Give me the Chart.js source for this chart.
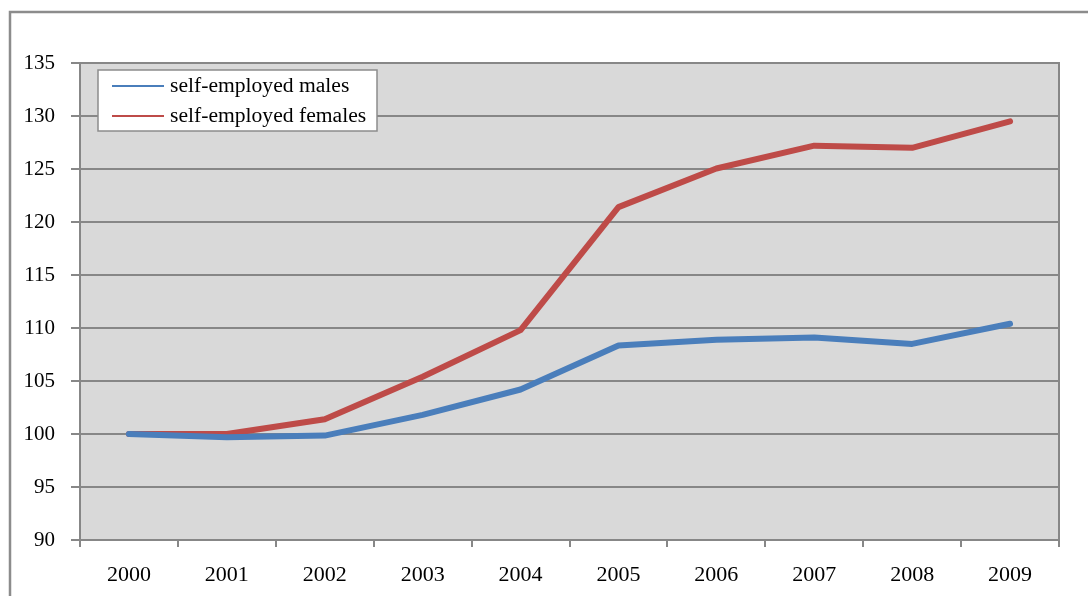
<!DOCTYPE html>
<html><head><meta charset="utf-8">
<script src="https://cdn.jsdelivr.net/npm/chart.js@4"></script>
<style>html,body{margin:0;padding:0;background:#fff}#wrap{width:1088px;height:596px;position:relative}</style>
</head><body><div id="wrap"><canvas id="c" width="1088" height="596"></canvas></div>
<script>
const years = ['2000','2001','2002','2003','2004','2005','2006','2007','2008','2009'];
const males = [100, 99.7, 99.85, 101.8, 104.2, 108.35, 108.9, 109.1, 108.5, 110.4];
const females = [100, 100, 101.4, 105.4, 109.8, 121.4, 125.05, 127.2, 127.0, 129.5];
const seriesNames = ['self-employed males', 'self-employed females'];
const yMin = 90, yMax = 135, yStep = 5;

const GRID = '#878787';
const FONT = "'Liberation Serif', 'Times New Roman', serif";

const framePlugin = {
  id: 'frame',
  beforeDraw(chart) {
    const ctx = chart.ctx, a = chart.chartArea;
    ctx.save();
    ctx.fillStyle = '#d9d9d9';
    ctx.fillRect(a.left, a.top, a.right - a.left, a.bottom - a.top);
    ctx.strokeStyle = '#8c8c8c';
    ctx.lineWidth = 2.5;
    ctx.beginPath();
    ctx.moveTo(10, 600); ctx.lineTo(10, 12); ctx.lineTo(1092, 12);
    ctx.stroke();
    ctx.restore();
  },
  afterDatasetsDraw(chart) {
    const ctx = chart.ctx, a = chart.chartArea;
    ctx.save();
    ctx.strokeStyle = GRID;
    ctx.lineWidth = 2;
    ctx.strokeRect(a.left, a.top, a.right - a.left, a.bottom - a.top);
    // legend
    const lx = 98, ly = 70, lw = 279, lh = 61;
    ctx.fillStyle = '#ffffff';
    ctx.fillRect(lx, ly, lw, lh);
    ctx.strokeStyle = '#8c8c8c';
    ctx.lineWidth = 1.5;
    ctx.strokeRect(lx, ly, lw, lh);
    ctx.font = '20px ' + FONT;
    ctx.textBaseline = 'middle';
    chart.data.datasets.forEach((ds, i) => {
      const y = ly + 16 + i * 30;
      ctx.strokeStyle = ds.borderColor;
      ctx.lineWidth = 2;
      ctx.beginPath(); ctx.moveTo(lx + 14, y); ctx.lineTo(lx + 66, y); ctx.stroke();
      ctx.fillStyle = '#000';
      ctx.save();
      ctx.translate(lx + 72, y + 1);
      ctx.scale(1.08, 1);
      ctx.fillText(ds.label, 0, 0);
      ctx.restore();
    });
    ctx.restore();
  }
};

new Chart(document.getElementById('c'), {
  type: 'line',
  data: {
    labels: years,
    datasets: [
      { label: seriesNames[0], data: males, borderColor: '#4a7ebb', borderWidth: 6, pointRadius: 0, borderCapStyle: 'round', borderJoinStyle: 'round', tension: 0 },
      { label: seriesNames[1], data: females, borderColor: '#be4b48', borderWidth: 6, pointRadius: 0, borderCapStyle: 'round', borderJoinStyle: 'round', tension: 0 }
    ]
  },
  options: {
    responsive: false,
    animation: false,
    devicePixelRatio: 1,
    layout: { padding: { left: 0, right: 29, top: 63, bottom: 0 } },
    plugins: { legend: { display: false }, tooltip: { enabled: false } },
    scales: {
      x: {
        offset: true,
        afterFit: s => { s.height = 56; },
        grid: { offset: true, drawOnChartArea: false, drawTicks: true, tickLength: 7, color: GRID, lineWidth: 2 },
        border: { color: GRID, width: 2 },
        ticks: { color: '#000', font: { family: FONT, size: 22 }, padding: 15, maxRotation: 0 }
      },
      y: {
        min: yMin, max: yMax,
        afterFit: s => { s.width = 80; },
        grid: { color: GRID, lineWidth: 2, tickLength: 9 },
        border: { color: GRID, width: 2 },
        ticks: { stepSize: yStep, color: '#000', font: { family: FONT, size: 21 }, padding: 16 }
      }
    }
  },
  plugins: [framePlugin]
});
</script>
</body></html>
